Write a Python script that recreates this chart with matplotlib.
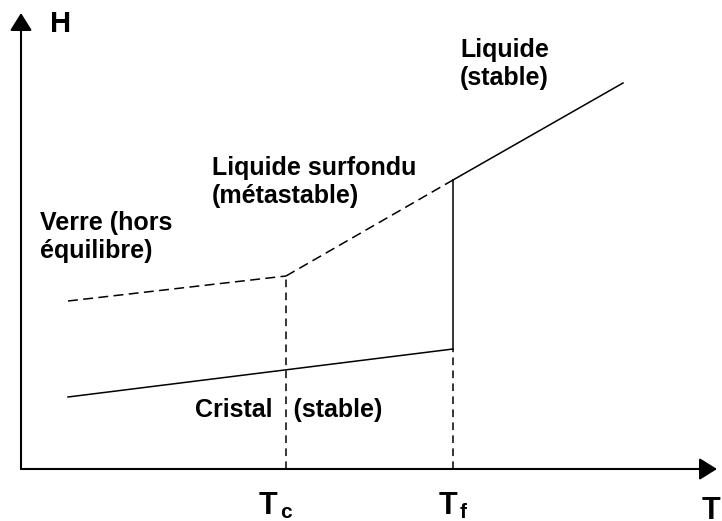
import matplotlib
matplotlib.use("Agg")
import matplotlib.pyplot as plt

plt.rcParams['font.family'] = ['Liberation Sans', 'DejaVu Sans']

# temperature (abscisse) et enthalpie (ordonnee), unites arbitraires
t_debut = 47
t_c = 265
t_f = 432
t_fin = 602

verre_T = [t_debut, t_c]
verre_H = [168, 193]
surfondu_T = [t_c, t_f]
surfondu_H = [193, 289]
liquide_T = [t_f, t_fin]
liquide_H = [289, 386]
cristal_T = [t_debut, t_f]
cristal_H = [72, 120]

axe_T_max = 696
axe_H_max = 456

fig = plt.figure(figsize=(7.22, 5.21), dpi=100)
ax = fig.add_axes([0, 0, 1, 1])
ax.set_xlim(-21, 701)
ax.set_ylim(-52, 469)
ax.axis('off')

lw = 1.1
ax.plot(verre_T, verre_H, color='k', lw=lw, dashes=(6.5, 3.5))
ax.plot(surfondu_T, surfondu_H, color='k', lw=lw, dashes=(6.5, 3.5))
ax.plot(liquide_T, liquide_H, color='k', lw=lw)
ax.plot(cristal_T, cristal_H, color='k', lw=lw)
ax.plot([t_f, t_f], [cristal_H[1], liquide_H[0]], color='k', lw=lw)
# pointilles verticaux vers l'axe des T
ax.plot([t_c, t_c], [0, verre_H[1]], color='k', lw=lw, dashes=(5, 3.5))
ax.plot([t_f, t_f], [0, cristal_H[1]], color='k', lw=lw, dashes=(5, 3.5))

# axes avec fleches
fleche = dict(arrowstyle='-|>,head_length=0.4,head_width=0.25', mutation_scale=27,
              lw=1.5, color='k', shrinkA=0, shrinkB=0)
ax.annotate('', xy=(axe_T_max, 0), xytext=(0, 0), arrowprops=fleche)
ax.annotate('', xy=(0, axe_H_max), xytext=(0, 0), arrowprops=fleche)

gras = dict(fontweight='bold', color='k', va='baseline', ha='left')
ax.text(29, 437, 'H', fontsize=21, **gras)
ax.text(681, -50, 'T', fontsize=22, **gras)
ax.text(238, -45, 'T', fontsize=22, **gras)
ax.text(259, -49, 'c', fontsize=15, **gras)
ax.text(418, -45, 'T', fontsize=22, **gras)
ax.text(439, -49, 'f', fontsize=15, **gras)

# etiquettes (ancre = ligne de base de la derniere ligne)
ax.text(19, 211, 'Verre (hors\néquilibre)', fontsize=18, **gras)
ax.text(191, 266, 'Liquide surfondu\n(métastable)', fontsize=18, **gras)
ax.text(439, 384, 'Liquide\n(stable)', fontsize=18, **gras)
ax.text(174, 52, 'Cristal   (stable)', fontsize=18, **gras)

fig.savefig('out.png', dpi=100)
